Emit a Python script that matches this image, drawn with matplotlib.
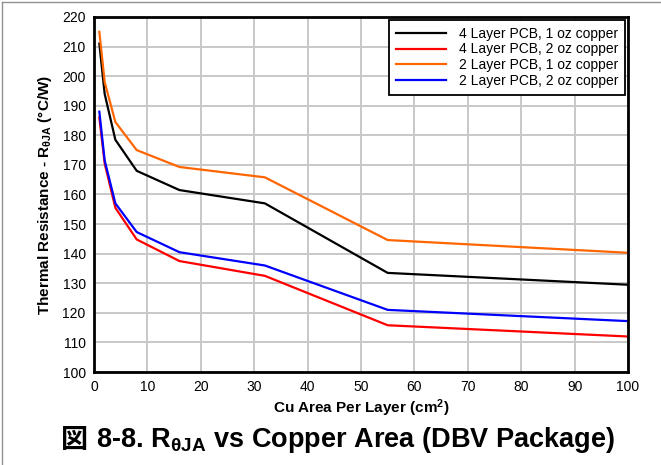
import matplotlib
matplotlib.use("Agg")
import matplotlib.pyplot as plt
from matplotlib.lines import Line2D

plt.rcParams['font.family'] = ['Liberation Sans', 'Noto Sans CJK JP', 'DejaVu Sans']
plt.rcParams['mathtext.fontset'] = 'custom'
plt.rcParams['mathtext.rm'] = 'Liberation Sans'
plt.rcParams['mathtext.bf'] = 'Liberation Sans:bold'
plt.rcParams['mathtext.it'] = 'Liberation Sans:italic'

# Copper area per layer (cm^2)
area = [1, 2, 4, 8, 16, 32, 55, 100]

# Thermal resistance R_theta_JA (degC/W)
r_4l_1oz = [211, 194, 178.5, 168, 161.5, 157, 133.5, 129.5]
r_4l_2oz = [186, 170.5, 155.5, 144.8, 137.5, 132.5, 115.8, 112]
r_2l_1oz = [215, 198, 184.5, 175, 169.3, 165.8, 144.6, 140.3]
r_2l_2oz = [188, 171.5, 157, 147.3, 140.5, 136, 121, 117.2]

series = [
    ("4 Layer PCB, 1 oz copper", r_4l_1oz, "#000000"),
    ("4 Layer PCB, 2 oz copper", r_4l_2oz, "#ff0000"),
    ("2 Layer PCB, 1 oz copper", r_2l_1oz, "#ff6600"),
    ("2 Layer PCB, 2 oz copper", r_2l_2oz, "#0000ff"),
]

x_ticks = list(range(0, 101, 10))
y_ticks = list(range(100, 221, 10))

fig = plt.figure(figsize=(6.61, 4.65), dpi=100)
ax = fig.add_axes([94 / 661, 1 - 372 / 465, (628 - 94) / 661, (372 - 17) / 465])

for label, vals, color in series:
    ax.plot(area, vals, color=color, lw=1.6, label=label)

ax.set_xlim(0, 100)
ax.set_ylim(100, 220)
ax.set_xticks(x_ticks)
ax.set_yticks(y_ticks)
ax.grid(True, color="#c8c8c8", lw=1.4)
ax.set_axisbelow(True)
ax.tick_params(length=0, labelsize=10, pad=6)
for s in ax.spines.values():
    s.set_linewidth(2.0)
    s.set_color("black")

ax.set_xlabel(r"Cu Area Per Layer (cm$^{\mathbf{2}}$)", fontsize=11,
              fontweight="bold", labelpad=2)
ax.set_ylabel(r"Thermal Resistance - R$_{\mathbf{θJA}}$ (°C/W)", fontsize=11,
              fontweight="bold", labelpad=6)

leg = ax.legend(loc="upper right", fontsize=10, frameon=True, fancybox=False,
                borderaxespad=0.2, handlelength=3.6, labelspacing=0.12,
                borderpad=0.5, handletextpad=0.9)
leg.get_frame().set_edgecolor("black")
leg.get_frame().set_linewidth(1.3)
leg.get_frame().set_alpha(1)

# Caption: CJK figure mark drawn separately (mathtext has no font fallback)
cap_fs = 19.5
cap_y = 0.054
cap_cx = 338 / 661
mark = fig.text(0, cap_y, "図", ha="left", va="center", fontsize=cap_fs,
                fontweight="bold", family=["Noto Sans CJK JP"])
rest = fig.text(0, cap_y, r" 8-8. R$_{\mathbf{θJA}}$ vs Copper Area (DBV Package)",
                ha="left", va="center", fontsize=cap_fs, fontweight="bold")
renderer = fig.canvas.get_renderer()
w_mark = mark.get_window_extent(renderer).width / fig.bbox.width
w_rest = rest.get_window_extent(renderer).width / fig.bbox.width
x0 = cap_cx - (w_mark + w_rest) / 2
mark.set_x(x0)
rest.set_x(x0 + w_mark)

# thin page frame along the top and left edges
fig.add_artist(Line2D([0.003, 0.003], [0, 0.996], transform=fig.transFigure,
                      color="#909090", lw=1))
fig.add_artist(Line2D([0.003, 1], [0.996, 0.996], transform=fig.transFigure,
                      color="#909090", lw=1))

fig.savefig("out.png", dpi=100)
